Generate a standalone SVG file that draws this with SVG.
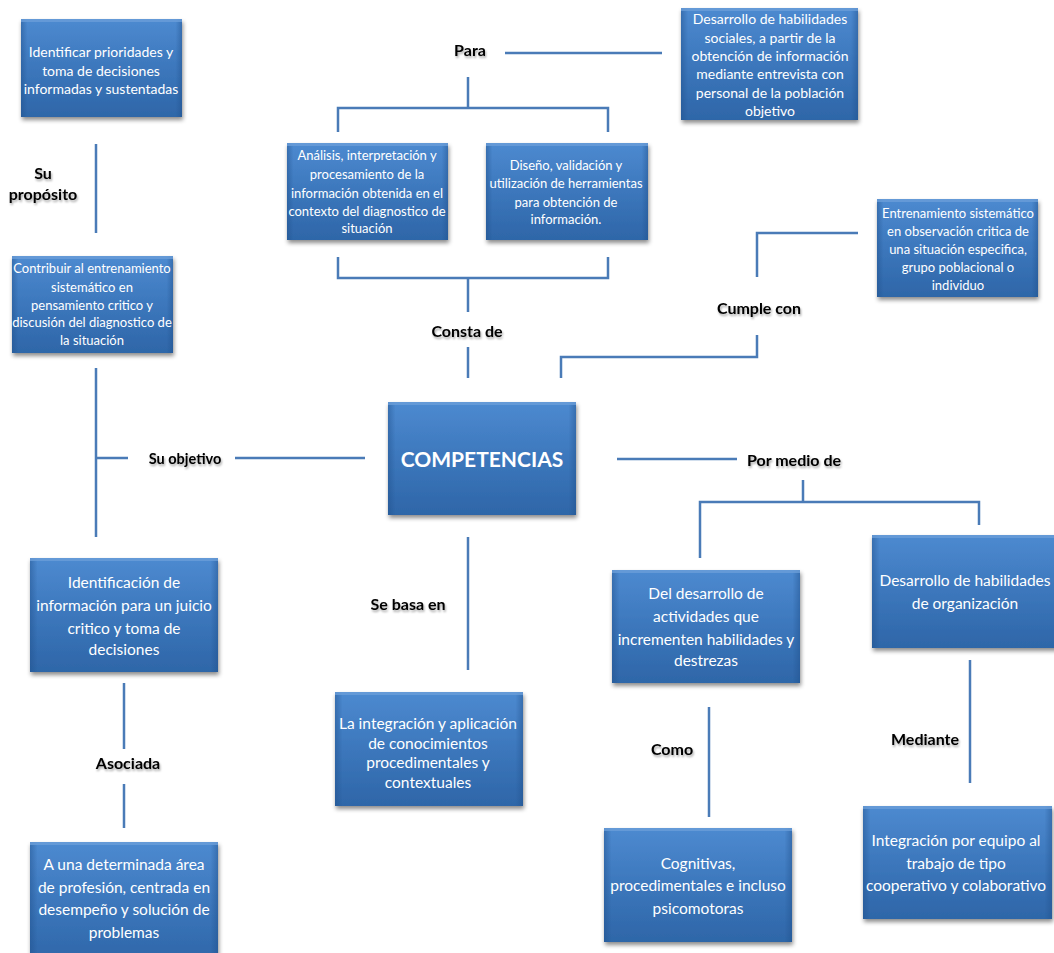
<svg xmlns="http://www.w3.org/2000/svg" width="1054" height="953" viewBox="0 0 1054 953">
<style>
.box{fill:url(#bg);filter:url(#sh)}
.edge{fill:url(#eg)}
.hl{fill:#6a9ed8;opacity:0.8}
.t{font-family:Lato,"Liberation Sans",sans-serif;fill:#ffffff;text-anchor:middle;dominant-baseline:central;font-size:14px}
.t13{font-size:13px}
.t15{font-size:15.5px}
.lab{font-family:Lato,"Liberation Sans",sans-serif;font-weight:bold;fill:#000;text-anchor:middle;dominant-baseline:central;font-size:16px;filter:url(#ts)}
.ln{stroke:#4a7bb7;stroke-width:2.5;fill:none}
</style>
<defs>
<linearGradient id="bg" x1="0" y1="0" x2="0" y2="1">
<stop offset="0" stop-color="#4d8ad0"/>
<stop offset="0.5" stop-color="#3c77bc"/>
<stop offset="1" stop-color="#2e66a8"/>
</linearGradient>
<linearGradient id="eg" x1="0" y1="0" x2="1" y2="0">
<stop offset="0" stop-color="#1f4f8a" stop-opacity="0.45"/>
<stop offset="0.04" stop-color="#1f4f8a" stop-opacity="0"/>
<stop offset="0.96" stop-color="#1f4f8a" stop-opacity="0"/>
<stop offset="1" stop-color="#1f4f8a" stop-opacity="0.45"/>
</linearGradient>
<filter id="sh" x="-10%" y="-10%" width="125%" height="130%">
<feDropShadow dx="1" dy="3" stdDeviation="2" flood-color="#000" flood-opacity="0.45"/>
</filter>
<filter id="ts" x="-10%" y="-30%" width="120%" height="170%">
<feDropShadow dx="1" dy="2" stdDeviation="1.2" flood-color="#000" flood-opacity="0.35"/>
</filter>
</defs>
<rect width="1054" height="953" fill="#ffffff"/>

<g id="connectors">
<path class="ln" d="M96 144V233"/>
<path class="ln" d="M96 368V537M96 458H128M235 458H365"/>
<path class="ln" d="M505 53H662"/>
<path class="ln" d="M468 77V108M338 132V108H608V132"/>
<path class="ln" d="M338 257V278H608V257M468 278V312"/>
<path class="ln" d="M468 347V378"/>
<path class="ln" d="M561 378V357H757V335"/>
<path class="ln" d="M757 277V233H858"/>
<path class="ln" d="M617 459H737"/>
<path class="ln" d="M803 480V502M700 558V502H979V525"/>
<path class="ln" d="M468 537V670"/>
<path class="ln" d="M124 683V749M124 784V828"/>
<path class="ln" d="M709 707V817"/>
<path class="ln" d="M970 660V783"/>
</g>

<g id="labels">
<text class="lab" x="43" y="172">Su</text>
<text class="lab" x="43" y="193">propósito</text>
<text class="lab" x="470" y="49">Para</text>
<text class="lab" x="467" y="330">Consta de</text>
<text class="lab" x="759" y="307">Cumple con</text>
<text class="lab" x="185" y="458" style="font-size:14.5px">Su objetivo</text>
<text class="lab" x="794" y="459">Por medio de</text>
<text class="lab" x="408" y="603">Se basa en</text>
<text class="lab" x="128" y="762">Asociada</text>
<text class="lab" x="672" y="748">Como</text>
<text class="lab" x="925" y="738">Mediante</text>
</g>

<g id="n1">
<rect class="box" x="21" y="19" width="161" height="98"/>
<rect class="edge" x="21" y="19" width="161" height="98"/>
<rect class="hl" x="21" y="19" width="161" height="3"/>
<text class="t" x="101" y="51">Identificar prioridades y</text>
<text class="t" x="101" y="70">toma de decisiones</text>
<text class="t" x="101" y="88">informadas y sustentadas</text>
</g>

<g id="n2">
<rect class="box" x="12" y="256" width="161" height="97"/>
<rect class="edge" x="12" y="256" width="161" height="97"/>
<rect class="hl" x="12" y="256" width="161" height="3"/>
<text class="t t13" x="92" y="268">Contribuir al entrenamiento</text>
<text class="t t13" x="92" y="287">sistemático en</text>
<text class="t t13" x="92" y="305">pensamiento critico y</text>
<text class="t t13" x="92" y="322">discusión del diagnostico de</text>
<text class="t t13" x="92" y="340">la situación</text>
</g>

<g id="nA">
<rect class="box" x="287" y="143" width="161" height="97"/>
<rect class="edge" x="287" y="143" width="161" height="97"/>
<rect class="hl" x="287" y="143" width="161" height="3"/>
<text class="t t13" x="367" y="155">Análisis, interpretación y</text>
<text class="t t13" x="367" y="174">procesamiento de la</text>
<text class="t t13" x="367" y="193">información obtenida en el</text>
<text class="t t13" x="367" y="211">contexto del diagnostico de</text>
<text class="t t13" x="367" y="228">situación</text>
</g>

<g id="nB">
<rect class="box" x="486" y="143" width="162" height="97"/>
<rect class="edge" x="486" y="143" width="162" height="97"/>
<rect class="hl" x="486" y="143" width="162" height="3"/>
<text class="t t13" x="566" y="165">Diseño, validación y</text>
<text class="t t13" x="566" y="183">utilización de herramientas</text>
<text class="t t13" x="566" y="202">para obtención de</text>
<text class="t t13" x="566" y="219">información.</text>
</g>

<g id="nC">
<rect class="box" x="681" y="8" width="177" height="112"/>
<rect class="edge" x="681" y="8" width="177" height="112"/>
<rect class="hl" x="681" y="8" width="177" height="3"/>
<text class="t" x="770" y="18">Desarrollo de habilidades</text>
<text class="t" x="770" y="37">sociales, a partir de la</text>
<text class="t" x="770" y="55">obtención de información</text>
<text class="t" x="770" y="73">mediante entrevista con</text>
<text class="t" x="770" y="92">personal de la población</text>
<text class="t" x="770" y="110">objetivo</text>
</g>

<g id="nD">
<rect class="box" x="877" y="199" width="161" height="98"/>
<rect class="edge" x="877" y="199" width="161" height="98"/>
<rect class="hl" x="877" y="199" width="161" height="3"/>
<text class="t t13" x="958" y="213">Entrenamiento sistemático</text>
<text class="t t13" x="958" y="231">en observación critica de</text>
<text class="t t13" x="958" y="249">una situación especifica,</text>
<text class="t t13" x="958" y="267">grupo poblacional o</text>
<text class="t t13" x="958" y="285">individuo</text>
</g>

<g id="main">
<rect class="box" x="388" y="402" width="188" height="113"/>
<rect class="edge" x="388" y="402" width="188" height="113"/>
<rect class="hl" x="388" y="402" width="188" height="3"/>
<text class="t" x="482" y="458" style="font-size:21px;font-weight:bold">COMPETENCIAS</text>
</g>

<g id="nE">
<rect class="box" x="30" y="558" width="188" height="114"/>
<rect class="edge" x="30" y="558" width="188" height="114"/>
<rect class="hl" x="30" y="558" width="188" height="3"/>
<text class="t t15" x="124" y="582">Identificación de</text>
<text class="t t15" x="124" y="605">información para un juicio</text>
<text class="t t15" x="124" y="628">critico y toma de</text>
<text class="t t15" x="124" y="649">decisiones</text>
</g>

<g id="nF">
<rect class="box" x="30" y="842" width="188" height="122"/>
<rect class="edge" x="30" y="842" width="188" height="122"/>
<rect class="hl" x="30" y="842" width="188" height="3"/>
<text class="t t15" x="124" y="864">A una determinada área</text>
<text class="t t15" x="124" y="887">de profesión, centrada en</text>
<text class="t t15" x="124" y="909">desempeño y solución de</text>
<text class="t t15" x="124" y="932">problemas</text>
</g>

<g id="nG">
<rect class="box" x="335" y="692" width="188" height="114"/>
<rect class="edge" x="335" y="692" width="188" height="114"/>
<rect class="hl" x="335" y="692" width="188" height="3"/>
<text class="t t15" x="428" y="723">La integración y aplicación</text>
<text class="t t15" x="428" y="743">de conocimientos</text>
<text class="t t15" x="428" y="762">procedimentales y</text>
<text class="t t15" x="428" y="782">contextuales</text>
</g>

<g id="nH">
<rect class="box" x="612" y="570" width="188" height="113"/>
<rect class="edge" x="612" y="570" width="188" height="113"/>
<rect class="hl" x="612" y="570" width="188" height="3"/>
<text class="t t15" x="706" y="593">Del desarrollo de</text>
<text class="t t15" x="706" y="616">actividades que</text>
<text class="t t15" x="706" y="639">incrementen habilidades y</text>
<text class="t t15" x="706" y="660">destrezas</text>
</g>

<g id="nI">
<rect class="box" x="872" y="535" width="192" height="113"/>
<rect class="edge" x="872" y="535" width="192" height="113"/>
<rect class="hl" x="872" y="535" width="192" height="3"/>
<text class="t t15" x="965" y="580">Desarrollo de habilidades</text>
<text class="t t15" x="965" y="603">de organización</text>
</g>

<g id="nJ">
<rect class="box" x="604" y="828" width="188" height="114"/>
<rect class="edge" x="604" y="828" width="188" height="114"/>
<rect class="hl" x="604" y="828" width="188" height="3"/>
<text class="t t15" x="698" y="863">Cognitivas,</text>
<text class="t t15" x="698" y="885">procedimentales e incluso</text>
<text class="t t15" x="698" y="908">psicomotoras</text>
</g>

<g id="nK">
<rect class="box" x="863" y="806" width="189" height="113"/>
<rect class="edge" x="863" y="806" width="189" height="113"/>
<rect class="hl" x="863" y="806" width="189" height="3"/>
<text class="t t15" x="956" y="840">Integración por equipo al</text>
<text class="t t15" x="956" y="863">trabajo de tipo</text>
<text class="t t15" x="956" y="885">cooperativo y colaborativo</text>
</g>
</svg>
